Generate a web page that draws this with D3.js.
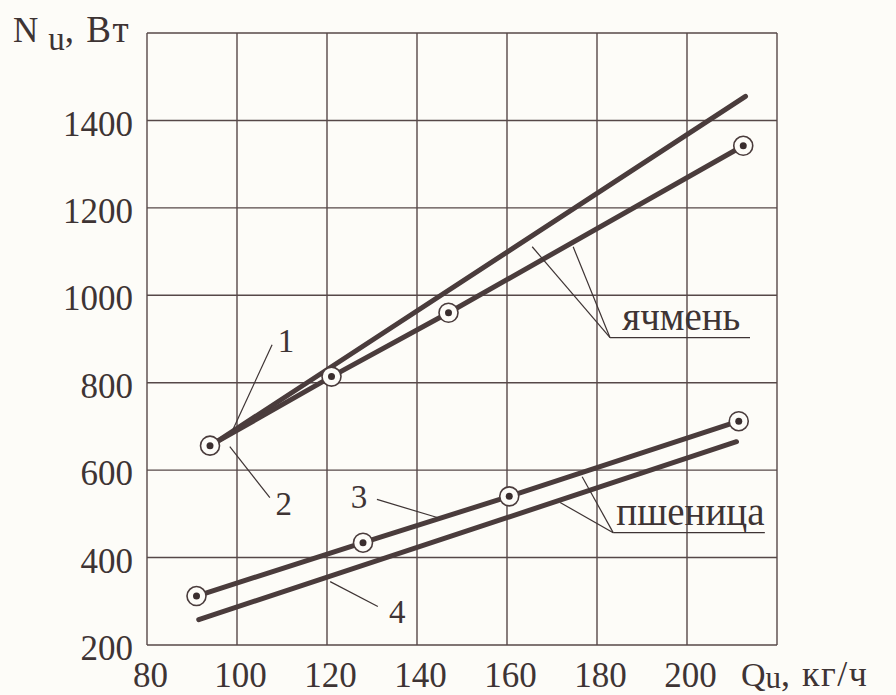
<!DOCTYPE html>
<html>
<head>
<meta charset="utf-8">
<script src="https://d3js.org/d3.v7.min.js"></script>
<style>
  html, body { margin: 0; padding: 0; background: #fdfcf8; }
  svg { display: block; }
</style>
</head>
<body>
<svg id="chart" width="896" height="695"></svg>
<script>
// ---- data ----
const xTicks = [80, 100, 120, 140, 160, 180, 200];
const yTicks = [200, 400, 600, 800, 1000, 1200, 1400];
const xDomain = [80, 220];
const yDomain = [200, 1600];

// 1 – barley, calculated (upper straight line)
const line1Q = [94, 213];
const line1N = [655, 1455];
// 2 – barley, experimental (with markers)
const line2Q = [94, 121, 147, 212.5];
const line2N = [656, 814, 960, 1342];
// 3 – wheat, experimental (with markers)
const line3Q = [91, 128, 160.5, 211.5];
const line3N = [312, 434, 540, 712];
// 4 – wheat, calculated
const line4Q = [91.5, 211];
const line4N = [258, 665];

// number labels with leader lines (data units)
const numLabels = ["1", "2", "3", "4"];
const numLabelQ = [110.9, 110.4, 127.1, 135.6];
const numLabelN = [871, 498, 514, 251];
const numLeaderQ = [[107.8, 99.1], [98.4, 107.3], [131.1, 144.7], [120.7, 131.3]];
const numLeaderN = [[887, 693], [654, 537], [533, 491], [345, 288]];

// crop labels
const cropLabels = ["ячмень", "пшеница"];
const cropLabelQ = [185.6, 184.3];
const cropLabelN = [921, 475];
const cropUnderQ = [[182.9, 214], [183.6, 217.3]];
const cropUnderN = [903, 457];
const cropLeaderStartQ = [[165.6, 174.7], [171.8, 176.7]];
const cropLeaderStartN = [[1111, 1111], [526, 585]];

// ---- drawing ----
const svg = d3.select("#chart");
const ink = "#3e3434";
const gridInk = "#564848";
const font = "'Liberation Serif', 'Times New Roman', serif";

const x = d3.scaleLinear().domain(xDomain).range([147, 777]);
const y = d3.scaleLinear().domain(yDomain).range([645, 33]);

// grid
const grid = svg.append("g");
grid.selectAll("line.v").data(xTicks.concat([220])).join("line")
  .attr("x1", d => x(d)).attr("x2", d => x(d))
  .attr("y1", y(yDomain[0])).attr("y2", y(yDomain[1]))
  .attr("stroke", gridInk).attr("stroke-width", 1.4);
grid.selectAll("line.h").data(yTicks.concat([1600])).join("line")
  .attr("y1", d => y(d)).attr("y2", d => y(d))
  .attr("x1", x(xDomain[0])).attr("x2", x(xDomain[1]))
  .attr("stroke", gridInk).attr("stroke-width", 1.4);

// axes labels via d3 axes (no domain / ticks lines)
const xAxis = svg.append("g").attr("transform", `translate(0,${y(200)})`)
  .call(d3.axisBottom(x).tickValues(xTicks).tickSize(0).tickPadding(0).tickFormat(d3.format("d")));
xAxis.select(".domain").remove();
xAxis.selectAll("text").attr("font-family", font).attr("font-size", 35)
  .attr("fill", ink).attr("dy", null).attr("y", 42).attr("dx", 3);

const yAxis = svg.append("g").attr("transform", `translate(${x(80)},0)`)
  .call(d3.axisLeft(y).tickValues(yTicks).tickSize(0).tickPadding(14).tickFormat(d3.format("d")));
yAxis.select(".domain").remove();
yAxis.selectAll("text").attr("font-family", font).attr("font-size", 35)
  .attr("fill", ink).attr("dy", "0.42em");

// axis titles
const yt = svg.append("text").attr("x", 13).attr("y", 42)
  .attr("font-family", font).attr("font-size", 35).attr("fill", ink);
yt.append("tspan").text("N");
yt.append("tspan").attr("font-size", 33).attr("dy", 8).attr("dx", 10).text("u");
yt.append("tspan").attr("dy", -8).attr("font-size", 37).attr("letter-spacing", 1.5).text(", Вт");

const xt = svg.append("text").attr("x", 741).attr("y", 686)
  .attr("font-family", font).attr("font-size", 34).attr("fill", ink);
xt.append("tspan").text("Q");
xt.append("tspan").attr("font-size", 31).attr("dy", 2).text("u");
xt.append("tspan").attr("dy", -2).attr("font-size", 36).attr("letter-spacing", 1.5).text(", кг/ч");

// data lines
const lineGen = d3.line().x(d => x(d[0])).y(d => y(d[1]));
const series = [
  [line1Q, line1N], [line2Q, line2N], [line3Q, line3N], [line4Q, line4N]
];
svg.append("g").selectAll("path").data(series).join("path")
  .attr("d", s => lineGen(s[0].map((q, i) => [q, s[1][i]])))
  .attr("fill", "none").attr("stroke", "#4a3c3c").attr("stroke-width", 5)
  .attr("stroke-linecap", "round");

// markers
const markerPts = line2Q.map((q, i) => [q, line2N[i]])
  .concat(line3Q.map((q, i) => [q, line3N[i]]));
const mk = svg.append("g").selectAll("g").data(markerPts).join("g")
  .attr("transform", d => `translate(${x(d[0])},${y(d[1])})`);
mk.append("circle").attr("r", 9.5).attr("fill", "#fdfcf8")
  .attr("stroke", "#4a3c3c").attr("stroke-width", 1.6);
mk.append("circle").attr("r", 3.5).attr("fill", "#3a2e2e");

// number leaders and labels
const ann = svg.append("g");
numLabels.forEach((t, i) => {
  ann.append("line")
    .attr("x1", x(numLeaderQ[i][0])).attr("y1", y(numLeaderN[i][0]))
    .attr("x2", x(numLeaderQ[i][1])).attr("y2", y(numLeaderN[i][1]))
    .attr("stroke", ink).attr("stroke-width", 1.2);
  ann.append("text").attr("x", x(numLabelQ[i])).attr("y", y(numLabelN[i]))
    .attr("text-anchor", "middle").attr("font-family", font)
    .attr("font-size", 33).attr("fill", ink).text(t);
});

// crop labels
cropLabels.forEach((t, i) => {
  ann.append("line")
    .attr("x1", x(cropUnderQ[i][0])).attr("x2", x(cropUnderQ[i][1]))
    .attr("y1", y(cropUnderN[i])).attr("y2", y(cropUnderN[i]))
    .attr("stroke", ink).attr("stroke-width", 1.3);
  cropLeaderStartQ[i].forEach((q, j) => {
    ann.append("line")
      .attr("x1", x(q)).attr("y1", y(cropLeaderStartN[i][j]))
      .attr("x2", x(cropUnderQ[i][0])).attr("y2", y(cropUnderN[i]))
      .attr("stroke", ink).attr("stroke-width", 1.2);
  });
  ann.append("text").attr("x", x(cropLabelQ[i])).attr("y", y(cropLabelN[i]))
    .attr("font-family", font).attr("font-size", 39).attr("fill", ink).text(t);
});
</script>
</body>
</html>
